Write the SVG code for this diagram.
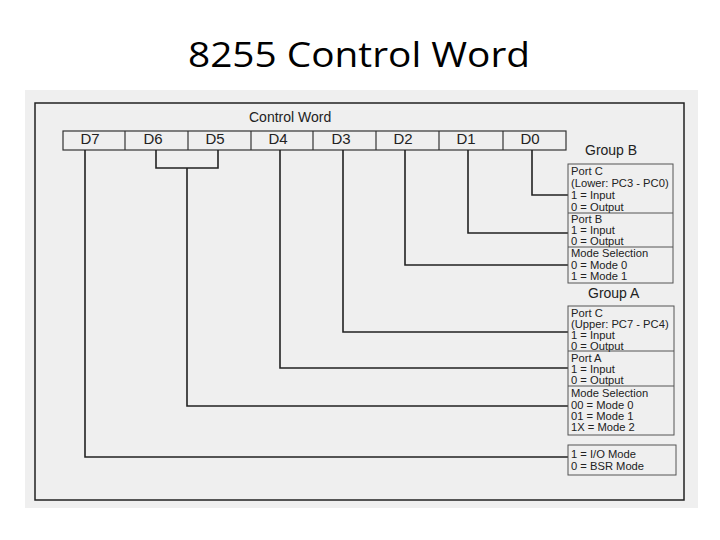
<svg xmlns="http://www.w3.org/2000/svg" width="720" height="540" viewBox="0 0 720 540">
<style>
.title{font-family:"Open Sans","Noto Sans",sans-serif;font-size:34px;fill:#000}
.bit{font-family:"Liberation Sans",Arial,sans-serif;font-size:15px;fill:#222;text-anchor:middle}
.hd{font-family:"Liberation Sans",Arial,sans-serif;font-size:14px;fill:#222}
.t{font-family:"Liberation Sans",Arial,sans-serif;font-size:11.2px;fill:#222}
.box{fill:none;stroke:#555;stroke-width:1}
.cell{fill:none;stroke:#333;stroke-width:1.2}
.wire{fill:none;stroke:#222;stroke-width:1.6}
</style>
<rect width="720" height="540" fill="#fff"/>
<text class="title" x="359" y="67" text-anchor="middle" textLength="342" lengthAdjust="spacingAndGlyphs">8255 Control Word</text>
<rect x="25" y="90" width="673" height="418" fill="#efefef"/>
<rect x="35" y="103" width="649" height="397" fill="none" stroke="#222" stroke-width="1.5"/>
<text class="hd" x="249" y="122">Control Word</text>

<g id="bits">
<rect class="cell" x="63" y="131" width="503" height="19"/>
<line class="cell" x1="125" y1="131" x2="125" y2="150"/>
<line class="cell" x1="188" y1="131" x2="188" y2="150"/>
<line class="cell" x1="251" y1="131" x2="251" y2="150"/>
<line class="cell" x1="313" y1="131" x2="313" y2="150"/>
<line class="cell" x1="376" y1="131" x2="376" y2="150"/>
<line class="cell" x1="439" y1="131" x2="439" y2="150"/>
<line class="cell" x1="503" y1="131" x2="503" y2="150"/>
<text class="bit" x="90" y="144">D7</text>
<text class="bit" x="153" y="144">D6</text>
<text class="bit" x="215" y="144">D5</text>
<text class="bit" x="278" y="144">D4</text>
<text class="bit" x="341" y="144">D3</text>
<text class="bit" x="403" y="144">D2</text>
<text class="bit" x="466" y="144">D1</text>
<text class="bit" x="530" y="144">D0</text>
</g>

<g id="connectors">
<polyline class="wire" points="532,150 532,195 568,195"/>
<polyline class="wire" points="468,150 468,233 568,233"/>
<polyline class="wire" points="405,150 405,265 568,265"/>
<polyline class="wire" points="343,150 343,332 568,332"/>
<polyline class="wire" points="280,150 280,368 568,368"/>
<polyline class="wire" points="156,150 156,168 218,168 218,150"/>
<polyline class="wire" points="187,168 187,406 568,406"/>
<polyline class="wire" points="85,150 85,457 568,457"/>
</g>

<g id="groupB">
<text class="hd" x="585" y="155">Group B</text>
<rect class="box" x="568" y="164" width="105" height="119"/>
<line class="box" x1="568" y1="213" x2="673" y2="213"/>
<line class="box" x1="568" y1="247" x2="673" y2="247"/>
<text class="t" x="571" y="175">Port C</text>
<text class="t" x="571" y="187">(Lower: PC3 - PC0)</text>
<text class="t" x="571" y="199">1 = Input</text>
<text class="t" x="571" y="211">0 = Output</text>
<text class="t" x="571" y="223">Port B</text>
<text class="t" x="571" y="234">1 = Input</text>
<text class="t" x="571" y="245">0 = Output</text>
<text class="t" x="571" y="257">Mode Selection</text>
<text class="t" x="571" y="269">0 = Mode 0</text>
<text class="t" x="571" y="280">1 = Mode 1</text>
</g>

<g id="groupA">
<text class="hd" x="588" y="298">Group A</text>
<rect class="box" x="568" y="306" width="106" height="129"/>
<line class="box" x1="568" y1="351" x2="674" y2="351"/>
<line class="box" x1="568" y1="386" x2="674" y2="386"/>
<text class="t" x="571" y="316.5">Port C</text>
<text class="t" x="571" y="327.5">(Upper: PC7 - PC4)</text>
<text class="t" x="571" y="338.5">1 = Input</text>
<text class="t" x="571" y="349.5">0 = Output</text>
<text class="t" x="571" y="362">Port A</text>
<text class="t" x="571" y="373">1 = Input</text>
<text class="t" x="571" y="384">0 = Output</text>
<text class="t" x="571" y="397">Mode Selection</text>
<text class="t" x="571" y="409">00 = Mode 0</text>
<text class="t" x="571" y="420">01 = Mode 1</text>
<text class="t" x="571" y="431">1X = Mode 2</text>
</g>

<g id="mode">
<rect class="box" x="568" y="445" width="108" height="30"/>
<text class="t" x="571" y="458">1 = I/O Mode</text>
<text class="t" x="571" y="470">0 = BSR Mode</text>
</g>
</svg>
